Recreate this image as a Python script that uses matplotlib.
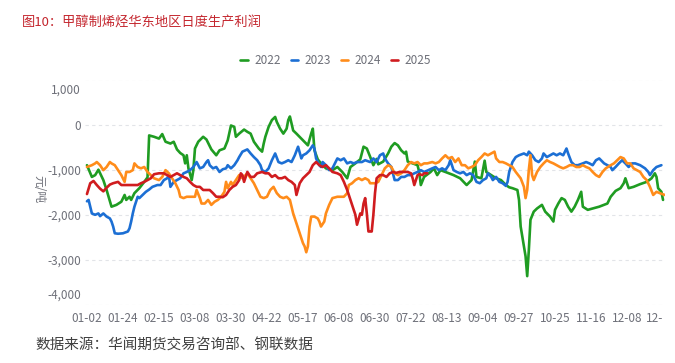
import matplotlib
matplotlib.use("Agg")
import matplotlib.pyplot as plt
import matplotlib.transforms as mtransforms
from matplotlib.ticker import FuncFormatter

plt.rcParams['font.family'] = ['Noto Sans CJK SC', 'DejaVu Sans']

# category axis: one label every 22 categories
tick_pos = [0, 22, 44, 66, 88, 110, 132, 154, 176, 198, 220, 242, 264, 286, 308, 330, 352]
tick_labels = ['01-02', '01-24', '02-15', '03-08', '03-30', '04-22', '05-17', '06-08',
               '06-30', '07-22', '08-13', '09-04', '09-27', '10-25', '11-16', '12-08', '12-']

years = ['2022', '2023', '2024', '2025']
colors = ['#1f9c22', '#1c6fd4', '#ff8c1a', '#d01c1f']

x2022 = [0, 3, 5, 7, 10, 12, 15, 18, 21, 23,
         24, 26, 27, 29, 32, 35, 37, 38, 41, 44,
         46, 48, 51, 53, 55, 57, 59, 60, 61, 62,
         64, 65, 66, 68, 71, 73, 76, 79, 81, 84,
         86, 88, 90, 91, 93, 96, 98, 100, 102, 105,
         107, 108, 109, 111, 113, 115, 116, 118, 120, 122,
         123, 124, 126, 128, 131, 133, 135, 137, 138, 139,
         141, 143, 146, 150, 153, 156, 159, 161, 164, 167,
         169, 171, 173, 175, 177, 178, 181, 184, 186, 188,
         190, 192, 194, 195, 196, 199, 202, 203, 204, 206,
         210, 212, 214, 216, 219, 224, 228, 232, 235, 237,
         238, 241, 243, 244, 247, 250, 253, 256, 258, 260,
         263, 264, 265, 266, 268, 269, 270, 271, 273, 275,
         278, 280, 283, 285, 286, 288, 290, 292, 294, 296,
         298, 300, 302, 303, 306, 309, 313, 318, 320, 323,
         326, 328, 329, 331, 334, 338, 342, 345, 347, 348,
         349, 351, 352]
y2022 = [-900, -1160, -1120, -1000, -1230, -1450, -1820, -1780, -1710, -1560,
         -1670, -1600, -1670, -1520, -1410, -1270, -1170, -240, -270, -310,
         -210, -380, -420, -380, -550, -630, -680, -860, -680, -970,
         -1230, -1010, -530, -380, -270, -330, -550, -680, -570, -530,
         -350, -20, -50, -270, -200, -110, -160, -200, -380, -530,
         -600, -420, -270, -50, 100, 170, 60, -90, -200, -90,
         100, 180, -130, -200, -310, -380, -460, -200, -90, -570,
         -770, -860, -970, -1010, -940, -1050, -1190, -940, -860, -770,
         -490, -530, -710, -900, -760, -880, -820, -640, -490, -410,
         -460, -570, -640, -600, -820, -860, -900, -1050, -1340, -1160,
         -1050, -970, -1120, -1010, -1050, -1120, -1190, -1340, -1230, -820,
         -1160, -1190, -800, -1050, -1120, -1190, -1230, -1340, -1390, -1410,
         -1450, -1670, -2260, -2480, -2920, -3360, -2780, -2110, -1930, -1860,
         -1780, -1930, -2040, -2150, -1890, -1750, -1630, -1670, -1820, -1930,
         -1820, -1670, -1490, -1820, -1890, -1860, -1820, -1750, -1600, -1470,
         -1410, -1300, -1190, -1410, -1380, -1320, -1270, -1190, -1080, -1160,
         -1410, -1490, -1670]

x2023 = [0, 1, 3, 5, 7, 8, 10, 12, 14, 15,
         16, 17, 19, 22, 25, 26, 27, 28, 29, 30,
         31, 32, 34, 36, 38, 40, 43, 45, 47, 49,
         50, 51, 53, 55, 57, 59, 61, 63, 65, 67,
         69, 71, 73, 74, 75, 77, 79, 81, 83, 85,
         86, 88, 90, 92, 93, 95, 98, 100, 102, 104,
         106, 107, 109, 111, 113, 115, 117, 119, 121, 123,
         125, 127, 129, 131, 132, 134, 136, 138, 139, 140,
         142, 143, 144, 146, 148, 150, 153, 155, 157, 159,
         161, 163, 165, 168, 170, 173, 175, 177, 179, 181,
         182, 184, 186, 188, 190, 192, 194, 196, 198, 200,
         202, 204, 206, 208, 211, 213, 215, 217, 219, 221,
         222, 223, 224, 226, 228, 230, 232, 234, 236, 238,
         240, 242, 244, 245, 247, 248, 250, 252, 254, 256,
         257, 258, 259, 260, 262, 264, 267, 269, 270, 272,
         274, 276, 278, 279, 281, 283, 285, 287, 289, 291,
         293, 294, 296, 298, 300, 303, 305, 307, 309, 311,
         313, 316, 318, 320, 321, 323, 325, 327, 329, 331,
         333, 335, 338, 341, 343, 344, 346, 348, 351]
y2023 = [-1700, -1670, -1970, -2000, -1970, -2030, -1970, -2040, -2080, -2150,
         -2260, -2410, -2420, -2410, -2370, -2300, -2150, -1970, -1820, -1710,
         -1600, -1630, -1560, -1490, -1440, -1380, -1340, -1340, -1230, -1190,
         -1120, -1380, -1270, -1230, -1190, -1080, -1050, -1010, -940, -830,
         -970, -940, -830, -790, -900, -970, -940, -1050, -990, -970,
         -900, -970, -900, -790, -720, -600, -550, -640, -720, -790,
         -900, -1010, -1050, -970, -790, -640, -830, -860, -830, -790,
         -830, -680, -490, -750, -680, -640, -570, -460, -530, -750,
         -900, -940, -830, -900, -1010, -970, -750, -790, -750, -860,
         -830, -860, -830, -830, -790, -830, -750, -830, -680, -640,
         -750, -860, -940, -1230, -1230, -1160, -1160, -1120, -1120, -1080,
         -1050, -1010, -1050, -1020, -970, -940, -1010, -970, -1010, -900,
         -790, -900, -1010, -1050, -1080, -1050, -1120, -1080, -1120, -1270,
         -1300, -1230, -1190, -1080, -1160, -1230, -1160, -1270, -1300, -1360,
         -1270, -1050, -940, -830, -720, -680, -640, -680, -600, -680,
         -790, -830, -750, -640, -720, -680, -640, -680, -640, -680,
         -530, -640, -830, -900, -900, -860, -830, -860, -900, -790,
         -750, -860, -900, -940, -1010, -940, -860, -790, -860, -940,
         -860, -860, -900, -970, -1050, -1120, -1010, -940, -900]

x2024 = [0, 3, 5, 6, 8, 10, 12, 14, 15, 17,
         19, 21, 23, 24, 26, 28, 29, 31, 33, 35,
         37, 39, 41, 44, 46, 48, 50, 52, 54, 56,
         57, 59, 61, 64, 66, 67, 69, 70, 72, 74,
         76, 78, 80, 82, 84, 85, 86, 88, 89, 91,
         93, 95, 98, 100, 102, 104, 106, 108, 110, 112,
         114, 116, 118, 120, 122, 124, 126, 128, 130, 132,
         133, 134, 135, 136, 137, 139, 141, 142, 143, 145,
         146, 148, 150, 153, 155, 157, 159, 160, 162, 164,
         166, 168, 170, 172, 173, 176, 178, 180, 182, 184,
         186, 188, 190, 192, 194, 196, 198, 200, 202, 204,
         206, 208, 211, 213, 215, 217, 219, 221, 223, 225,
         227, 229, 231, 233, 235, 237, 239, 241, 243, 245,
         247, 249, 250, 252, 254, 256, 258, 260, 262, 265,
         267, 268, 269, 270, 271, 272, 273, 275, 277, 279,
         281, 283, 285, 287, 289, 291, 293, 295, 297, 299,
         301, 303, 305, 307, 309, 311, 313, 315, 317, 320,
         322, 324, 326, 328, 330, 332, 334, 336, 338, 340,
         342, 344, 346, 348, 350, 353]
y2024 = [-940, -900, -860, -830, -900, -1010, -940, -830, -860, -900,
         -1010, -1120, -1270, -1050, -1050, -1010, -860, -940, -970, -940,
         -1050, -1120, -1190, -1230, -1160, -1010, -1080, -1190, -1300, -1450,
         -1600, -1630, -1600, -1600, -1600, -1450, -1630, -1750, -1750, -1670,
         -1780, -1710, -1670, -1600, -1490, -1270, -1410, -1270, -1340, -1230,
         -1120, -1190, -1080, -1190, -1300, -1450, -1600, -1630, -1600, -1450,
         -1380, -1520, -1600, -1630, -1600, -1670, -1970, -2190, -2410, -2630,
         -2700, -2830, -2700, -2260, -2040, -2040, -2080, -2150, -2260, -2150,
         -1970, -1780, -1630, -1600, -1600, -1600, -1520, -1340, -1300, -1230,
         -1190, -1230, -1190, -1230, -1300, -1300, -1270, -1120, -970, -900,
         -940, -1080, -1120, -1080, -1010, -900, -830, -860, -830, -900,
         -860, -860, -830, -860, -830, -750, -680, -750, -720, -830,
         -750, -900, -900, -970, -940, -900, -790, -720, -640, -680,
         -640, -600, -750, -830, -830, -860, -900, -940, -1050, -1190,
         -1380, -1630, -1450, -1000, -680, -1120, -1230, -1050, -940, -860,
         -790, -830, -860, -900, -940, -970, -940, -900, -900, -940,
         -940, -900, -940, -970, -1050, -1120, -1160, -1050, -970, -900,
         -860, -790, -720, -750, -860, -860, -970, -1010, -1050, -1160,
         -1230, -1380, -1560, -1490, -1520, -1560]

x2025 = [0, 2, 4, 6, 8, 10, 12, 14, 16, 19,
         21, 24, 28, 31, 33, 35, 37, 39, 41, 44,
         47, 49, 51, 53, 55, 57, 59, 61, 63, 65,
         67, 69, 71, 73, 75, 77, 79, 81, 83, 85,
         87, 89, 91, 93, 94, 95, 96, 98, 100, 102,
         104, 107, 109, 111, 113, 115, 117, 119, 121, 123,
         125, 127, 128, 130, 132, 134, 136, 138, 140, 142,
         144, 146, 148, 150, 153, 155, 157, 159, 161, 163,
         164, 165, 167, 168, 169, 170, 171, 172, 173, 174,
         175, 176, 177, 179, 181, 183, 185, 187, 189, 191,
         193, 196, 198, 199, 200, 201, 202, 203, 205, 206,
         208]
y2025 = [-1540, -1300, -1250, -1340, -1420, -1480, -1400, -1330, -1300, -1270,
         -1340, -1340, -1340, -1340, -1300, -1270, -1230, -1190, -1100, -1080,
         -1080, -1120, -1160, -1120, -1080, -1120, -1160, -1190, -1270, -1340,
         -1380, -1380, -1450, -1450, -1450, -1520, -1600, -1600, -1610, -1560,
         -1450, -1380, -1340, -1230, -1080, -1120, -1270, -1050, -1160, -1160,
         -1080, -1050, -1080, -1080, -1160, -1120, -1190, -1190, -1160, -1230,
         -1270, -1340, -1560, -1300, -1190, -1120, -1050, -900, -830, -900,
         -940, -900, -970, -1050, -1080, -1120, -1270, -1450, -1670, -1890,
         -2000, -2220, -1970, -2000, -1750, -1630, -1970, -2370, -2370, -2370,
         -2000, -1520, -1190, -1120, -1120, -1160, -1080, -1050, -1070, -1050,
         -1050, -1050, -1080, -1190, -1340, -1230, -1120, -1100, -1120, -1080,
         -1080]

series_x = [x2022, x2023, x2024, x2025]
series_y = [y2022, y2023, y2024, y2025]

W, H = 675, 363
fig = plt.figure(figsize=(W / 100, H / 100), dpi=100)
ax = fig.add_axes([85 / W, 1 - 305 / H, 580 / W, 225.5 / H])

for xs, ys, c, lab in zip(series_x, series_y, colors, years):
    ax.plot(xs, ys, color=c, lw=1.9, label=lab, solid_joinstyle='round', solid_capstyle='round')

ax.set_xlim(-1.2, 353.2)
ax.set_ylim(-4000, 1000)
ax.set_yticks([-4000, -3000, -2000, -1000, 0, 1000])
ax.yaxis.set_major_formatter(FuncFormatter(lambda v, p: f'{int(v):,}'))
ax.set_xticks(tick_pos)
ax.set_xticklabels(tick_labels)
for s in ax.spines.values():
    s.set_visible(False)
ax.grid(axis='y', color='#e2e4e8', linestyle=(0, (3, 3)), linewidth=0.8)
ax.set_axisbelow(True)
ax.tick_params(axis='both', length=0, labelsize=8.5, labelcolor='#6e7079')
ax.tick_params(axis='x', pad=5)
ax.tick_params(axis='y', pad=3)

# edge labels sit inside the range, as in the source
ylabels = ax.get_yticklabels()
ylabels[-1].set_transform(ylabels[-1].get_transform() +
                          mtransforms.ScaledTranslation(0, -9.5 / 100, fig.dpi_scale_trans))
ylabels[0].set_transform(ylabels[0].get_transform() +
                         mtransforms.ScaledTranslation(0, 11 / 100, fig.dpi_scale_trans))
ax.get_xticklabels()[-1].set_horizontalalignment('right')

fig.legend(loc='center', bbox_to_anchor=(335.5 / W, 1 - 60.7 / H), ncol=4, frameon=False,
           fontsize=8.5, labelcolor='#6e7079', handlelength=0.6, handletextpad=0.55,
           columnspacing=0.85)

fig.text(22 / W, 1 - 23.3 / H, '图10：甲醇制烯烃华东地区日度生产利润', color='#c4262e',
         fontsize=9.5, ha='left', va='center')
fig.text(39 / W, 1 - 189 / H, '元/吨', rotation=-90, color='#6e7079', fontsize=8.5,
         ha='center', va='center')
fig.text(35 / W, 1 - 346 / H, '数据来源：华闻期货交易咨询部、钢联数据', color='#404040',
         fontsize=10.5, ha='left', va='center')

fig.savefig('out.png', dpi=100)
